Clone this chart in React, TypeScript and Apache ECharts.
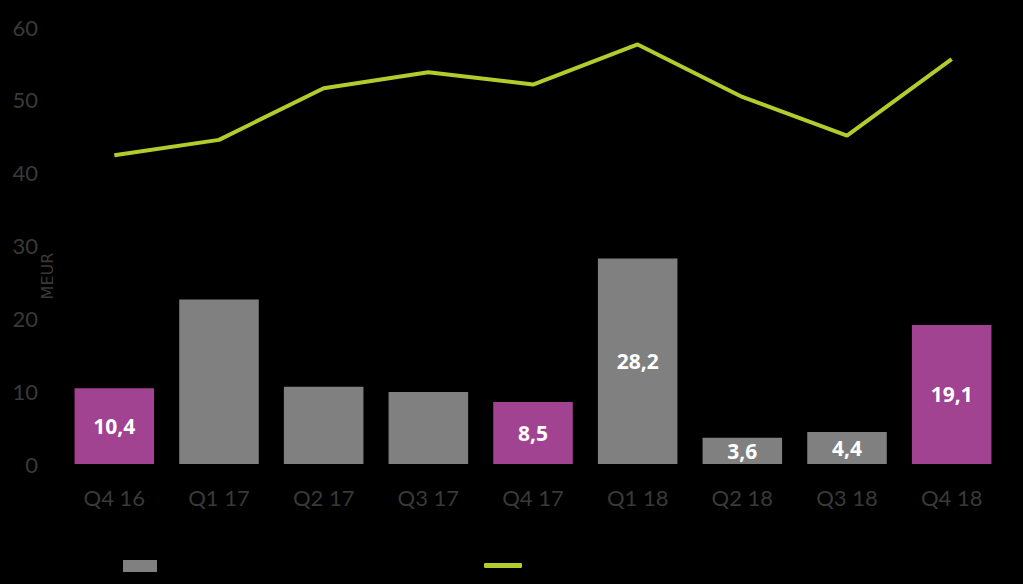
import React, { useEffect, useRef } from "react";
import * as echarts from "echarts";

const categories = ["Q4 16", "Q1 17", "Q2 17", "Q3 17", "Q4 17", "Q1 18", "Q2 18", "Q3 18", "Q4 18"];
const barValues = [10.4, 22.6, 10.6, 9.9, 8.5, 28.2, 3.6, 4.4, 19.1];
const highlighted = [true, false, false, false, true, false, false, false, true];
const showLabel = [true, false, false, false, true, true, true, true, true];
const lineValues = [42.4, 44.5, 51.6, 53.8, 52.1, 57.6, 50.4, 45.1, 55.6];
const yTicks = [0, 10, 20, 30, 40, 50, 60];

const GRAY = "#808080";
const PURPLE = "#a14391";
const GREEN = "#b4cb2c";
const AXIS_TEXT = "#393939";

export default function App() {
  const ref = useRef<HTMLDivElement>(null);
  useEffect(() => {
    if (!ref.current) return;
    const chart = echarts.init(ref.current, null, { renderer: "svg" });
    chart.setOption({
      animation: false,
      backgroundColor: "#000000",
      grid: { left: 62, right: 19, top: 27, bottom: 120 },
      legend: [
        {
          left: 118,
          top: 555,
          itemWidth: 34,
          itemHeight: 12,
          data: [{ name: "Bars", icon: "rect" }],
          textStyle: { color: "#000000", fontSize: 1 },
          selectedMode: false,
        },
        {
          left: 479,
          top: 558,
          itemWidth: 38,
          itemHeight: 5,
          data: [{ name: "Line", icon: "roundRect" }],
          itemStyle: { color: GREEN },
          textStyle: { color: "#000000", fontSize: 1 },
          selectedMode: false,
        },
      ],
      xAxis: {
        type: "category",
        data: categories,
        axisLine: { show: false },
        axisTick: { show: false },
        axisLabel: {
          color: AXIS_TEXT,
          fontSize: 22,
          fontFamily: "Lato",
          margin: 22,
        },
      },
      yAxis: {
        type: "value",
        min: yTicks[0],
        max: yTicks[yTicks.length - 1],
        interval: 10,
        splitLine: { show: false },
        axisLine: { show: false },
        axisTick: { show: false },
        axisLabel: {
          color: AXIS_TEXT,
          fontSize: 22,
          fontFamily: "Lato",
          margin: 24,
        },
      },
      graphic: [
        {
          type: "text",
          x: 47,
          y: 276,
          rotation: Math.PI / 2,
          style: {
            text: "MEUR",
            fill: AXIS_TEXT,
            font: "16px 'DejaVu Sans'",
            align: "center",
            verticalAlign: "middle",
          },
        },
      ],
      series: [
        {
          name: "Bars",
          type: "bar",
          barWidth: "76%",
          itemStyle: { color: GRAY },
          data: barValues.map((v, i) => ({
            value: v,
            itemStyle: { color: highlighted[i] ? PURPLE : GRAY },
            label: {
              show: showLabel[i],
              position: "inside",
              color: "#ffffff",
              fontSize: 21,
              fontWeight: "bold",
              fontFamily: "Open Sans",
              formatter: (p: any) => String(p.value).replace(".", ","),
            },
          })),
        },
        {
          name: "Line",
          type: "line",
          data: lineValues,
          showSymbol: false,
          symbol: "none",
          lineStyle: { color: GREEN, width: 4 },
          itemStyle: { color: GREEN },
        },
      ],
    });
    return () => chart.dispose();
  }, []);
  return (
    <div
      ref={ref}
      style={{ position: "fixed", left: 0, top: 0, width: 1023, height: 584 }}
    />
  );
}
